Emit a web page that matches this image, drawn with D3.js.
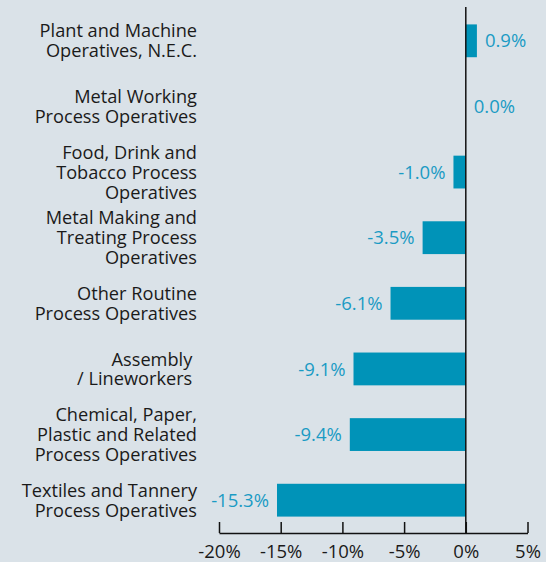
<!DOCTYPE html>
<html lang="en">
  <head>
    <meta charset="UTF-8" />
    <title>Change by occupation</title>
    <style>
      body {
        margin: 0;
        background: #dae2e8;
      }
      svg text {
        font-family: "Open Sans", "Noto Sans", sans-serif;
      }
    </style>
  </head>
  <body>
    <script src="https://d3js.org/d3.v7.min.js"></script>
    <script>

// occupations, top to bottom (lines of each label)
var categories = [
  ["Plant and Machine", "Operatives, N.E.C."],
  ["Metal Working", "Process Operatives"],
  ["Food, Drink and", "Tobacco Process", "Operatives"],
  ["Metal Making and", "Treating Process", "Operatives"],
  ["Other Routine", "Process Operatives"],
  ["Assembly\u00a0", "/ Lineworkers\u00a0"],
  ["Chemical, Paper,", "Plastic and Related", "Process Operatives"],
  ["Textiles and Tannery", "Process Operatives"]
];
var values = [0.9, 0.0, -1.0, -3.5, -6.1, -9.1, -9.4, -15.3];
var xTicks = [-20, -15, -10, -5, 0, 5];

var width = 546, height = 562;

var svg = d3.select("body").append("svg")
  .attr("width", width)
  .attr("height", height);

var x = d3.scaleLinear().domain([-20, 5]).range([219, 527.5]);

var y = d3.scaleBand()
  .domain(d3.range(values.length))
  .range([8, 533])
  .paddingInner(0.5)
  .paddingOuter(0.25);

// bars
svg.selectAll("rect.bar")
  .data(values)
  .enter()
  .append("rect")
  .attr("class", "bar")
  .attr("x", function(d) { return x(Math.min(0, d)); })
  .attr("width", function(d) { return Math.abs(x(d) - x(0)); })
  .attr("y", function(d, i) { return y(i); })
  .attr("height", y.bandwidth())
  .attr("fill", "#0093b8");

// zero line
svg.append("line")
  .attr("x1", x(0)).attr("x2", x(0))
  .attr("y1", 7).attr("y2", 533)
  .attr("stroke", "#111")
  .attr("stroke-width", 1.5);

// value labels
svg.selectAll("text.val")
  .data(values)
  .enter()
  .append("text")
  .attr("class", "val")
  .attr("x", function(d) { return d >= 0 ? x(d) + 8 : x(d) - 8; })
  .attr("y", function(d, i) { return y(i) + y.bandwidth() / 2; })
  .attr("dy", "0.36em")
  .attr("text-anchor", function(d) { return d >= 0 ? "start" : "end"; })
  .attr("fill", "#1a9bc4")
  .style("font-size", "18.5px")
  .text(function(d) { return d.toFixed(1) + "%"; });

// category labels
var lineH = 20;
var labels = svg.selectAll("text.cat")
  .data(categories)
  .enter()
  .append("text")
  .attr("class", "cat")
  .attr("text-anchor", "end")
  .attr("fill", "#1a1a1a")
  .style("font-size", "18.2px")
  .attr("transform", function(d, i) {
    var cy = y(i) + y.bandwidth() / 2 - (d.length - 1) * lineH / 2;
    return "translate(197," + cy + ")";
  });

labels.selectAll("tspan")
  .data(function(d) { return d; })
  .enter()
  .append("tspan")
  .attr("x", 0)
  .attr("y", function(d, j) { return j * lineH; })
  .attr("dy", "0.36em")
  .text(function(d) { return d; });

// axis
var axis = svg.append("g")
  .attr("transform", "translate(0,533)")
  .call(d3.axisBottom(x)
    .tickValues(xTicks)
    .tickSizeInner(-11)
    .tickSizeOuter(0)
    .tickPadding(12)
    .tickFormat(function(d) { return d + "%"; }));

axis.select(".domain").attr("stroke", "#111").attr("stroke-width", 1.5);
axis.selectAll(".tick line").attr("stroke", "#111").attr("stroke-width", 1.5);
axis.selectAll(".tick text")
  .attr("fill", "#1a1a1a")
  .style("font-size", "18.5px")
  .style("font-family", "'Open Sans', 'Noto Sans', sans-serif");

    </script>
  </body>
</html>
